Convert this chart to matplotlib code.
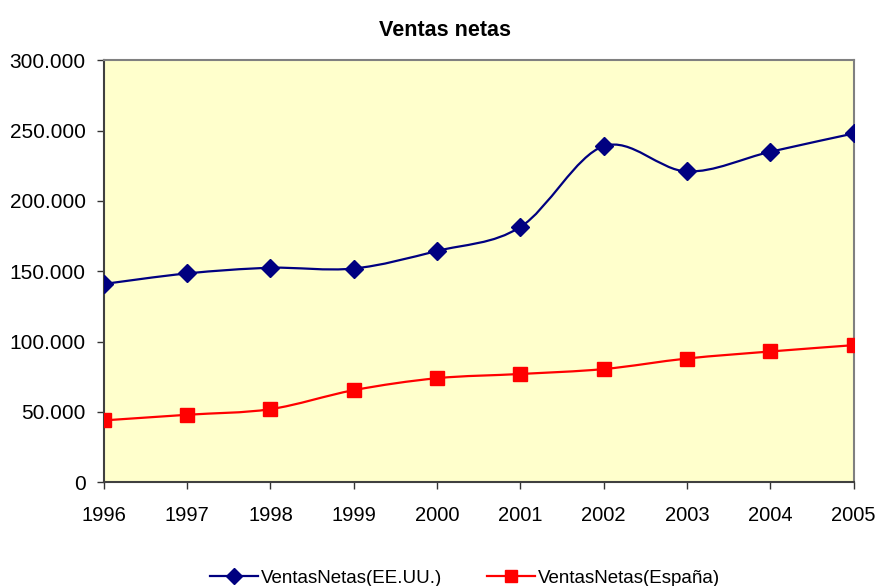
import matplotlib
matplotlib.use("Agg")
from matplotlib import pyplot as plt
from matplotlib.path import Path
from matplotlib.patches import PathPatch
from matplotlib.lines import Line2D
from matplotlib.ticker import FuncFormatter
import numpy as np

plt.rcParams['font.family'] = ['Liberation Sans', 'DejaVu Sans']

years = [1996, 1997, 1998, 1999, 2000, 2001, 2002, 2003, 2004, 2005]
ventas_eeuu = [141000, 148500, 152500, 152000, 164500, 181500, 239000, 221000, 235000, 248000]
ventas_espana = [44000, 48000, 52000, 65500, 74000, 77000, 80500, 88000, 93000, 97500]
nombres = ["VentasNetas(EE.UU.)", "VentasNetas(España)"]
titulo = "Ventas netas"

azul = "#000080"
rojo = "#FF0000"


def curva_suave(xs, ys):
    # bezier tipo catmull-rom, como las lineas suavizadas de excel
    p = np.column_stack([xs, ys]).astype(float)
    p = np.vstack([p[0], p, p[-1]])
    verts = [p[1]]
    codes = [Path.MOVETO]
    for i in range(1, len(p) - 2):
        c1 = p[i] + (p[i + 1] - p[i - 1]) / 6
        c2 = p[i + 1] - (p[i + 2] - p[i]) / 6
        verts += [c1, c2, p[i + 1]]
        codes += [Path.CURVE4] * 3
    return Path(verts, codes)


fig = plt.figure(figsize=(8.8, 5.86), dpi=100)
ax = fig.add_axes([0.118, 0.177, 0.852, 0.72])
ax.set_facecolor("#FFFFCC")

for ys, color in [(ventas_eeuu, azul), (ventas_espana, rojo)]:
    ax.add_patch(PathPatch(curva_suave(years, ys), facecolor="none",
                           edgecolor=color, lw=1.6, zorder=2))

ax.plot(years, ventas_eeuu, ls="none", marker="D", ms=9.5, color=azul, zorder=3)
ax.plot(years, ventas_espana, ls="none", marker="s", ms=10, color=rojo, zorder=3)

ax.set_xlim(1996, 2005)
ax.set_ylim(0, 300000)
ax.set_xticks(years)
ax.set_yticks(range(0, 300001, 50000))
ax.yaxis.set_major_formatter(FuncFormatter(lambda v, p: f"{int(v):,}".replace(",", ".")))
ax.tick_params(length=5, width=1, color="#333333")
ax.tick_params(axis="x", labelsize=14.5, pad=12)
ax.tick_params(axis="y", labelsize=15, pad=8)
for s in ["left", "bottom"]:
    ax.spines[s].set_color("#404040")
    ax.spines[s].set_linewidth(1.5)
for s in ["top", "right"]:
    ax.spines[s].set_color("#808080")
    ax.spines[s].set_linewidth(1.5)
for lbl in ax.get_xticklabels() + ax.get_yticklabels():
    lbl.set_clip_on(False)

fig.text(0.506, 0.948, titulo, ha="center", va="center", fontsize=15.5, fontweight="bold")

handles = [Line2D([], [], color=azul, lw=1.6, marker="D", ms=8),
           Line2D([], [], color=rojo, lw=1.6, marker="s", ms=8.5)]
fig.legend(handles, nombres, loc="center", bbox_to_anchor=(0.528, 0.013), ncol=2,
           frameon=False, fontsize=13.5, handlelength=2.56, handletextpad=0.15,
           columnspacing=2.4, borderaxespad=0)

fig.savefig("out.png", dpi=100)
